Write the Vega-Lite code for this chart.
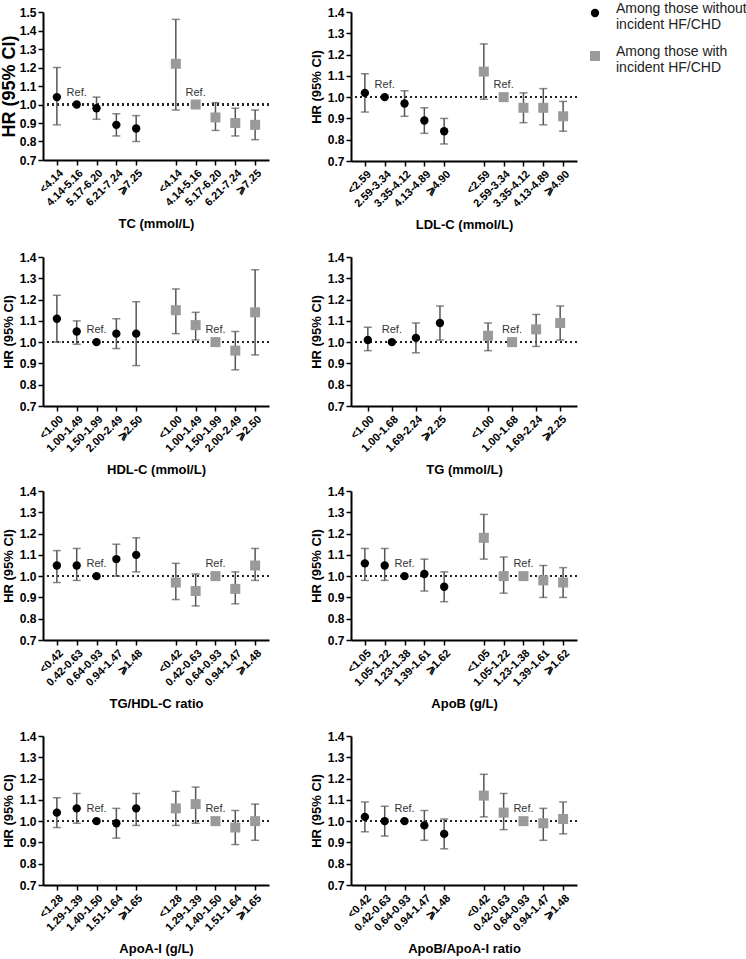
{
"$schema": "https://vega.github.io/schema/vega-lite/v6.json",
"padding": {"top": 6, "left": 0, "right": 5, "bottom": 0},
"background": "white",
"config": {
  "font": "Liberation Sans",
  "view": {"stroke": null},
  "axis": {"grid": false, "labelFont": "Liberation Sans", "labelFontWeight": "bold", "labelColor": "#000", "titleFont": "Liberation Sans", "titleFontWeight": "bold", "titleColor": "#000", "domainColor": "#000", "domainWidth": 2, "tickColor": "#000", "tickWidth": 1.5, "tickSize": 5, "labelOverlap": false},
  "axisX": {"labelAngle": -45, "labelFontSize": 11, "labelPadding": 2, "titleFontSize": 13, "titlePadding": 10},
  "axisY": {"labelFontSize": 12, "titleFontSize": 13, "titlePadding": 4, "format": ".1f", "tickCount": 8},
  "legend": {"padding": 0}
},
"datasets": {"d": [
{"p":"TC","g":"without","k":"1 <4.14","hr":1.04,"lo":0.89,"hi":1.20},
{"p":"TC","g":"without","k":"1 4.14-5.16","hr":1.0,"note":"Ref."},
{"p":"TC","g":"without","k":"1 5.17-6.20","hr":0.98,"lo":0.92,"hi":1.04},
{"p":"TC","g":"without","k":"1 6.21-7.24","hr":0.89,"lo":0.83,"hi":0.95},
{"p":"TC","g":"without","k":"1 ⩾7.25","hr":0.87,"lo":0.80,"hi":0.94},
{"p":"TC","g":"with","k":"2 <4.14","hr":1.22,"lo":0.97,"hi":1.46},
{"p":"TC","g":"with","k":"2 4.14-5.16","hr":1.0,"note":"Ref."},
{"p":"TC","g":"with","k":"2 5.17-6.20","hr":0.93,"lo":0.86,"hi":1.01},
{"p":"TC","g":"with","k":"2 6.21-7.24","hr":0.90,"lo":0.83,"hi":0.98},
{"p":"TC","g":"with","k":"2 ⩾7.25","hr":0.89,"lo":0.81,"hi":0.97},
{"p":"LDL","g":"without","k":"1 <2.59","hr":1.02,"lo":0.93,"hi":1.11},
{"p":"LDL","g":"without","k":"1 2.59-3.34","hr":1.0,"note":"Ref."},
{"p":"LDL","g":"without","k":"1 3.35-4.12","hr":0.97,"lo":0.91,"hi":1.03},
{"p":"LDL","g":"without","k":"1 4.13-4.89","hr":0.89,"lo":0.83,"hi":0.95},
{"p":"LDL","g":"without","k":"1 ⩾4.90","hr":0.84,"lo":0.78,"hi":0.90},
{"p":"LDL","g":"with","k":"2 <2.59","hr":1.12,"lo":0.99,"hi":1.25},
{"p":"LDL","g":"with","k":"2 2.59-3.34","hr":1.0,"note":"Ref."},
{"p":"LDL","g":"with","k":"2 3.35-4.12","hr":0.95,"lo":0.88,"hi":1.02},
{"p":"LDL","g":"with","k":"2 4.13-4.89","hr":0.95,"lo":0.87,"hi":1.04},
{"p":"LDL","g":"with","k":"2 ⩾4.90","hr":0.91,"lo":0.84,"hi":0.98},
{"p":"HDL","g":"without","k":"1 <1.00","hr":1.11,"lo":1.00,"hi":1.22},
{"p":"HDL","g":"without","k":"1 1.00-1.49","hr":1.05,"lo":0.99,"hi":1.10},
{"p":"HDL","g":"without","k":"1 1.50-1.99","hr":1.0,"note":"Ref."},
{"p":"HDL","g":"without","k":"1 2.00-2.49","hr":1.04,"lo":0.97,"hi":1.11},
{"p":"HDL","g":"without","k":"1 ⩾2.50","hr":1.04,"lo":0.89,"hi":1.19},
{"p":"HDL","g":"with","k":"2 <1.00","hr":1.15,"lo":1.04,"hi":1.25},
{"p":"HDL","g":"with","k":"2 1.00-1.49","hr":1.08,"lo":1.01,"hi":1.14},
{"p":"HDL","g":"with","k":"2 1.50-1.99","hr":1.0,"note":"Ref."},
{"p":"HDL","g":"with","k":"2 2.00-2.49","hr":0.96,"lo":0.87,"hi":1.05},
{"p":"HDL","g":"with","k":"2 ⩾2.50","hr":1.14,"lo":0.94,"hi":1.34},
{"p":"TG","g":"without","k":"1 <1.00","hr":1.01,"lo":0.96,"hi":1.07},
{"p":"TG","g":"without","k":"1 1.00-1.68","hr":1.0,"note":"Ref."},
{"p":"TG","g":"without","k":"1 1.69-2.24","hr":1.02,"lo":0.95,"hi":1.09},
{"p":"TG","g":"without","k":"1 ⩾2.25","hr":1.09,"lo":1.01,"hi":1.17},
{"p":"TG","g":"with","k":"2 <1.00","hr":1.03,"lo":0.96,"hi":1.09},
{"p":"TG","g":"with","k":"2 1.00-1.68","hr":1.0,"note":"Ref."},
{"p":"TG","g":"with","k":"2 1.69-2.24","hr":1.06,"lo":0.98,"hi":1.13},
{"p":"TG","g":"with","k":"2 ⩾2.25","hr":1.09,"lo":1.01,"hi":1.17},
{"p":"TGHDL","g":"without","k":"1 <0.42","hr":1.05,"lo":0.97,"hi":1.12},
{"p":"TGHDL","g":"without","k":"1 0.42-0.63","hr":1.05,"lo":0.98,"hi":1.13},
{"p":"TGHDL","g":"without","k":"1 0.64-0.93","hr":1.0,"note":"Ref."},
{"p":"TGHDL","g":"without","k":"1 0.94-1.47","hr":1.08,"lo":1.00,"hi":1.15},
{"p":"TGHDL","g":"without","k":"1 ⩾1.48","hr":1.10,"lo":1.02,"hi":1.18},
{"p":"TGHDL","g":"with","k":"2 <0.42","hr":0.97,"lo":0.89,"hi":1.06},
{"p":"TGHDL","g":"with","k":"2 0.42-0.63","hr":0.93,"lo":0.86,"hi":1.01},
{"p":"TGHDL","g":"with","k":"2 0.64-0.93","hr":1.0,"note":"Ref."},
{"p":"TGHDL","g":"with","k":"2 0.94-1.47","hr":0.94,"lo":0.87,"hi":1.02},
{"p":"TGHDL","g":"with","k":"2 ⩾1.48","hr":1.05,"lo":0.98,"hi":1.13},
{"p":"ApoB","g":"without","k":"1 <1.05","hr":1.06,"lo":0.98,"hi":1.13},
{"p":"ApoB","g":"without","k":"1 1.05-1.22","hr":1.05,"lo":0.98,"hi":1.13},
{"p":"ApoB","g":"without","k":"1 1.23-1.38","hr":1.0,"note":"Ref."},
{"p":"ApoB","g":"without","k":"1 1.39-1.61","hr":1.01,"lo":0.93,"hi":1.08},
{"p":"ApoB","g":"without","k":"1 ⩾1.62","hr":0.95,"lo":0.88,"hi":1.02},
{"p":"ApoB","g":"with","k":"2 <1.05","hr":1.18,"lo":1.08,"hi":1.29},
{"p":"ApoB","g":"with","k":"2 1.05-1.22","hr":1.00,"lo":0.92,"hi":1.09},
{"p":"ApoB","g":"with","k":"2 1.23-1.38","hr":1.0,"note":"Ref."},
{"p":"ApoB","g":"with","k":"2 1.39-1.61","hr":0.98,"lo":0.90,"hi":1.05},
{"p":"ApoB","g":"with","k":"2 ⩾1.62","hr":0.97,"lo":0.90,"hi":1.04},
{"p":"ApoAI","g":"without","k":"1 <1.28","hr":1.04,"lo":0.97,"hi":1.11},
{"p":"ApoAI","g":"without","k":"1 1.29-1.39","hr":1.06,"lo":0.99,"hi":1.13},
{"p":"ApoAI","g":"without","k":"1 1.40-1.50","hr":1.0,"note":"Ref."},
{"p":"ApoAI","g":"without","k":"1 1.51-1.64","hr":0.99,"lo":0.92,"hi":1.06},
{"p":"ApoAI","g":"without","k":"1 ⩾1.65","hr":1.06,"lo":0.98,"hi":1.13},
{"p":"ApoAI","g":"with","k":"2 <1.28","hr":1.06,"lo":0.98,"hi":1.14},
{"p":"ApoAI","g":"with","k":"2 1.29-1.39","hr":1.08,"lo":0.99,"hi":1.16},
{"p":"ApoAI","g":"with","k":"2 1.40-1.50","hr":1.0,"note":"Ref."},
{"p":"ApoAI","g":"with","k":"2 1.51-1.64","hr":0.97,"lo":0.89,"hi":1.05},
{"p":"ApoAI","g":"with","k":"2 ⩾1.65","hr":1.00,"lo":0.91,"hi":1.08},
{"p":"ApoBAI","g":"without","k":"1 <0.42","hr":1.02,"lo":0.95,"hi":1.09},
{"p":"ApoBAI","g":"without","k":"1 0.42-0.63","hr":1.00,"lo":0.93,"hi":1.07},
{"p":"ApoBAI","g":"without","k":"1 0.64-0.93","hr":1.0,"note":"Ref."},
{"p":"ApoBAI","g":"without","k":"1 0.94-1.47","hr":0.98,"lo":0.91,"hi":1.05},
{"p":"ApoBAI","g":"without","k":"1 ⩾1.48","hr":0.94,"lo":0.87,"hi":1.01},
{"p":"ApoBAI","g":"with","k":"2 <0.42","hr":1.12,"lo":1.02,"hi":1.22},
{"p":"ApoBAI","g":"with","k":"2 0.42-0.63","hr":1.04,"lo":0.96,"hi":1.13},
{"p":"ApoBAI","g":"with","k":"2 0.64-0.93","hr":1.0,"note":"Ref."},
{"p":"ApoBAI","g":"with","k":"2 0.94-1.47","hr":0.99,"lo":0.91,"hi":1.06},
{"p":"ApoBAI","g":"with","k":"2 ⩾1.48","hr":1.01,"lo":0.94,"hi":1.09}
]},
"data": {"name": "d"},
"spacing": 8,
"vconcat": [
{"spacing": 19, "vconcat": [
 {"spacing": 40, "hconcat": [
  {"width": 226, "height": 148, "transform": [{"filter": "datum.p === 'TC'"}],
   "layer": [
    {"mark": {"type": "rule", "strokeDash": [2, 3], "strokeWidth": 1.5, "color": "#222"},
     "encoding": {"y": {"datum": 1, "type": "quantitative", "scale": {"domain": [0.7, 1.5], "nice": false, "zero": false}, "axis": {"title": "HR (95% CI)", "titleFontSize": 18, "titlePadding": 1, "tickCount": 9, "labelOverlap": false, "values": [0.7,0.8,0.9,1.0,1.1,1.2,1.3,1.4,1.5]}}}},
    {"encoding": {"x": {"field": "k", "type": "nominal", "scale": {"type": "point", "padding": 0.7, "domain": ["1 <4.14","1 4.14-5.16","1 5.17-6.20","1 6.21-7.24","1 ⩾7.25","gap","2 <4.14","2 4.14-5.16","2 5.17-6.20","2 6.21-7.24","2 ⩾7.25"]}, "axis": {"title": "TC (mmol/L)", "labelExpr": "slice(datum.label, 2)", "values": ["1 <4.14","1 4.14-5.16","1 5.17-6.20","1 6.21-7.24","1 ⩾7.25","2 <4.14","2 4.14-5.16","2 5.17-6.20","2 6.21-7.24","2 ⩾7.25"]}}},
     "layer": [
      {"mark": {"type": "rule", "color": "#555", "strokeWidth": 1.5}, "encoding": {"y": {"field": "lo", "type": "quantitative"}, "y2": {"field": "hi"}}},
      {"mark": {"type": "tick", "color": "#555", "size": 8, "thickness": 1.5}, "encoding": {"y": {"field": "lo", "type": "quantitative"}}},
      {"mark": {"type": "tick", "color": "#555", "size": 8, "thickness": 1.5}, "encoding": {"y": {"field": "hi", "type": "quantitative"}}},
      {"mark": {"type": "point", "filled": true, "opacity": 1}, "encoding": {"y": {"field": "hr", "type": "quantitative"},
        "color": {"field": "g", "type": "nominal", "scale": {"domain": ["without", "with"], "range": ["#000000", "#9a9a9a"]}, "legend": {"orient": "none", "legendX": 545, "legendY": -6, "title": null, "labelExpr": "datum.label === 'without' ? ['Among those without', 'incident HF/CHD'] : ['Among those with', 'incident HF/CHD']", "labelFontSize": 14, "labelFont": "Liberation Sans", "labelColor": "#222", "labelBaseline": "alphabetic", "symbolSize": 90, "rowPadding": 13, "labelOffset": 14, "labelLimit": 0}},
        "shape": {"field": "g", "type": "nominal", "scale": {"domain": ["without", "with"], "range": ["circle", "square"]}},
        "size": {"field": "g", "type": "nominal", "scale": {"domain": ["without", "with"], "range": [70, 100]}, "legend": null}}},
      {"mark": {"type": "text", "dy": -12, "fontSize": 11, "color": "#333"}, "transform": [{"filter": "isValid(datum.note)"}], "encoding": {"y": {"field": "hr", "type": "quantitative"}, "text": {"field": "note"}}}
     ]}
   ]},
  {"width": 226, "height": 149, "transform": [{"filter": "datum.p === 'LDL'"}],
   "layer": [
    {"mark": {"type": "rule", "strokeDash": [2, 3], "strokeWidth": 1.5, "color": "#222"},
     "encoding": {"y": {"datum": 1, "type": "quantitative", "scale": {"domain": [0.7, 1.4], "nice": false, "zero": false}, "axis": {"title": "HR (95% CI)", "values": [0.7,0.8,0.9,1.0,1.1,1.2,1.3,1.4]}}}},
    {"encoding": {"x": {"field": "k", "type": "nominal", "scale": {"type": "point", "padding": 0.7, "domain": ["1 <2.59","1 2.59-3.34","1 3.35-4.12","1 4.13-4.89","1 ⩾4.90","gap","2 <2.59","2 2.59-3.34","2 3.35-4.12","2 4.13-4.89","2 ⩾4.90"]}, "axis": {"title": "LDL-C (mmol/L)", "labelExpr": "slice(datum.label, 2)", "values": ["1 <2.59","1 2.59-3.34","1 3.35-4.12","1 4.13-4.89","1 ⩾4.90","2 <2.59","2 2.59-3.34","2 3.35-4.12","2 4.13-4.89","2 ⩾4.90"]}}},
     "layer": [
      {"mark": {"type": "rule", "color": "#555", "strokeWidth": 1.5}, "encoding": {"y": {"field": "lo", "type": "quantitative"}, "y2": {"field": "hi"}}},
      {"mark": {"type": "tick", "color": "#555", "size": 8, "thickness": 1.5}, "encoding": {"y": {"field": "lo", "type": "quantitative"}}},
      {"mark": {"type": "tick", "color": "#555", "size": 8, "thickness": 1.5}, "encoding": {"y": {"field": "hi", "type": "quantitative"}}},
      {"mark": {"type": "point", "filled": true, "opacity": 1}, "encoding": {"y": {"field": "hr", "type": "quantitative"},
        "color": {"field": "g", "type": "nominal", "scale": {"domain": ["without", "with"], "range": ["#000000", "#9a9a9a"]}, "legend": null},
        "shape": {"field": "g", "type": "nominal", "scale": {"domain": ["without", "with"], "range": ["circle", "square"]}, "legend": null},
        "size": {"field": "g", "type": "nominal", "scale": {"domain": ["without", "with"], "range": [70, 100]}, "legend": null}}},
      {"mark": {"type": "text", "dy": -12, "fontSize": 11, "color": "#333"}, "transform": [{"filter": "isValid(datum.note)"}], "encoding": {"y": {"field": "hr", "type": "quantitative"}, "text": {"field": "note"}}}
     ]}
   ]}
 ]},
 {"spacing": 40, "hconcat": [
  {"width": 226, "height": 149, "transform": [{"filter": "datum.p === 'HDL'"}],
   "layer": [
    {"mark": {"type": "rule", "strokeDash": [2, 3], "strokeWidth": 1.5, "color": "#222"},
     "encoding": {"y": {"datum": 1, "type": "quantitative", "scale": {"domain": [0.7, 1.4], "nice": false, "zero": false}, "axis": {"title": "HR (95% CI)", "values": [0.7,0.8,0.9,1.0,1.1,1.2,1.3,1.4]}}}},
    {"encoding": {"x": {"field": "k", "type": "nominal", "scale": {"type": "point", "padding": 0.7, "domain": ["1 <1.00","1 1.00-1.49","1 1.50-1.99","1 2.00-2.49","1 ⩾2.50","gap","2 <1.00","2 1.00-1.49","2 1.50-1.99","2 2.00-2.49","2 ⩾2.50"]}, "axis": {"title": "HDL-C (mmol/L)", "labelExpr": "slice(datum.label, 2)", "values": ["1 <1.00","1 1.00-1.49","1 1.50-1.99","1 2.00-2.49","1 ⩾2.50","2 <1.00","2 1.00-1.49","2 1.50-1.99","2 2.00-2.49","2 ⩾2.50"]}}},
     "layer": [
      {"mark": {"type": "rule", "color": "#555", "strokeWidth": 1.5}, "encoding": {"y": {"field": "lo", "type": "quantitative"}, "y2": {"field": "hi"}}},
      {"mark": {"type": "tick", "color": "#555", "size": 8, "thickness": 1.5}, "encoding": {"y": {"field": "lo", "type": "quantitative"}}},
      {"mark": {"type": "tick", "color": "#555", "size": 8, "thickness": 1.5}, "encoding": {"y": {"field": "hi", "type": "quantitative"}}},
      {"mark": {"type": "point", "filled": true, "opacity": 1}, "encoding": {"y": {"field": "hr", "type": "quantitative"},
        "color": {"field": "g", "type": "nominal", "scale": {"domain": ["without", "with"], "range": ["#000000", "#9a9a9a"]}, "legend": null},
        "shape": {"field": "g", "type": "nominal", "scale": {"domain": ["without", "with"], "range": ["circle", "square"]}, "legend": null},
        "size": {"field": "g", "type": "nominal", "scale": {"domain": ["without", "with"], "range": [70, 100]}, "legend": null}}},
      {"mark": {"type": "text", "dy": -12, "fontSize": 11, "color": "#333"}, "transform": [{"filter": "isValid(datum.note)"}], "encoding": {"y": {"field": "hr", "type": "quantitative"}, "text": {"field": "note"}}}
     ]}
   ]},
  {"width": 226, "height": 149, "transform": [{"filter": "datum.p === 'TG'"}],
   "layer": [
    {"mark": {"type": "rule", "strokeDash": [2, 3], "strokeWidth": 1.5, "color": "#222"},
     "encoding": {"y": {"datum": 1, "type": "quantitative", "scale": {"domain": [0.7, 1.4], "nice": false, "zero": false}, "axis": {"title": "HR (95% CI)", "values": [0.7,0.8,0.9,1.0,1.1,1.2,1.3,1.4]}}}},
    {"encoding": {"x": {"field": "k", "type": "nominal", "scale": {"type": "point", "padding": 0.7, "domain": ["1 <1.00","1 1.00-1.68","1 1.69-2.24","1 ⩾2.25","gap","2 <1.00","2 1.00-1.68","2 1.69-2.24","2 ⩾2.25"]}, "axis": {"title": "TG (mmol/L)", "labelExpr": "slice(datum.label, 2)", "values": ["1 <1.00","1 1.00-1.68","1 1.69-2.24","1 ⩾2.25","2 <1.00","2 1.00-1.68","2 1.69-2.24","2 ⩾2.25"]}}},
     "layer": [
      {"mark": {"type": "rule", "color": "#555", "strokeWidth": 1.5}, "encoding": {"y": {"field": "lo", "type": "quantitative"}, "y2": {"field": "hi"}}},
      {"mark": {"type": "tick", "color": "#555", "size": 8, "thickness": 1.5}, "encoding": {"y": {"field": "lo", "type": "quantitative"}}},
      {"mark": {"type": "tick", "color": "#555", "size": 8, "thickness": 1.5}, "encoding": {"y": {"field": "hi", "type": "quantitative"}}},
      {"mark": {"type": "point", "filled": true, "opacity": 1}, "encoding": {"y": {"field": "hr", "type": "quantitative"},
        "color": {"field": "g", "type": "nominal", "scale": {"domain": ["without", "with"], "range": ["#000000", "#9a9a9a"]}, "legend": null},
        "shape": {"field": "g", "type": "nominal", "scale": {"domain": ["without", "with"], "range": ["circle", "square"]}, "legend": null},
        "size": {"field": "g", "type": "nominal", "scale": {"domain": ["without", "with"], "range": [70, 100]}, "legend": null}}},
      {"mark": {"type": "text", "dy": -12, "fontSize": 11, "color": "#333"}, "transform": [{"filter": "isValid(datum.note)"}], "encoding": {"y": {"field": "hr", "type": "quantitative"}, "text": {"field": "note"}}}
     ]}
   ]}
 ]}
]},
{"spacing": 19, "vconcat": [
 {"spacing": 40, "hconcat": [
  {"width": 226, "height": 149, "transform": [{"filter": "datum.p === 'TGHDL'"}],
   "layer": [
    {"mark": {"type": "rule", "strokeDash": [2, 3], "strokeWidth": 1.5, "color": "#222"},
     "encoding": {"y": {"datum": 1, "type": "quantitative", "scale": {"domain": [0.7, 1.4], "nice": false, "zero": false}, "axis": {"title": "HR (95% CI)", "values": [0.7,0.8,0.9,1.0,1.1,1.2,1.3,1.4]}}}},
    {"encoding": {"x": {"field": "k", "type": "nominal", "scale": {"type": "point", "padding": 0.7, "domain": ["1 <0.42","1 0.42-0.63","1 0.64-0.93","1 0.94-1.47","1 ⩾1.48","gap","2 <0.42","2 0.42-0.63","2 0.64-0.93","2 0.94-1.47","2 ⩾1.48"]}, "axis": {"title": "TG/HDL-C ratio", "labelExpr": "slice(datum.label, 2)", "values": ["1 <0.42","1 0.42-0.63","1 0.64-0.93","1 0.94-1.47","1 ⩾1.48","2 <0.42","2 0.42-0.63","2 0.64-0.93","2 0.94-1.47","2 ⩾1.48"]}}},
     "layer": [
      {"mark": {"type": "rule", "color": "#555", "strokeWidth": 1.5}, "encoding": {"y": {"field": "lo", "type": "quantitative"}, "y2": {"field": "hi"}}},
      {"mark": {"type": "tick", "color": "#555", "size": 8, "thickness": 1.5}, "encoding": {"y": {"field": "lo", "type": "quantitative"}}},
      {"mark": {"type": "tick", "color": "#555", "size": 8, "thickness": 1.5}, "encoding": {"y": {"field": "hi", "type": "quantitative"}}},
      {"mark": {"type": "point", "filled": true, "opacity": 1}, "encoding": {"y": {"field": "hr", "type": "quantitative"},
        "color": {"field": "g", "type": "nominal", "scale": {"domain": ["without", "with"], "range": ["#000000", "#9a9a9a"]}, "legend": null},
        "shape": {"field": "g", "type": "nominal", "scale": {"domain": ["without", "with"], "range": ["circle", "square"]}, "legend": null},
        "size": {"field": "g", "type": "nominal", "scale": {"domain": ["without", "with"], "range": [70, 100]}, "legend": null}}},
      {"mark": {"type": "text", "dy": -12, "fontSize": 11, "color": "#333"}, "transform": [{"filter": "isValid(datum.note)"}], "encoding": {"y": {"field": "hr", "type": "quantitative"}, "text": {"field": "note"}}}
     ]}
   ]},
  {"width": 226, "height": 149, "transform": [{"filter": "datum.p === 'ApoB'"}],
   "layer": [
    {"mark": {"type": "rule", "strokeDash": [2, 3], "strokeWidth": 1.5, "color": "#222"},
     "encoding": {"y": {"datum": 1, "type": "quantitative", "scale": {"domain": [0.7, 1.4], "nice": false, "zero": false}, "axis": {"title": "HR (95% CI)", "values": [0.7,0.8,0.9,1.0,1.1,1.2,1.3,1.4]}}}},
    {"encoding": {"x": {"field": "k", "type": "nominal", "scale": {"type": "point", "padding": 0.7, "domain": ["1 <1.05","1 1.05-1.22","1 1.23-1.38","1 1.39-1.61","1 ⩾1.62","gap","2 <1.05","2 1.05-1.22","2 1.23-1.38","2 1.39-1.61","2 ⩾1.62"]}, "axis": {"title": "ApoB (g/L)", "labelExpr": "slice(datum.label, 2)", "values": ["1 <1.05","1 1.05-1.22","1 1.23-1.38","1 1.39-1.61","1 ⩾1.62","2 <1.05","2 1.05-1.22","2 1.23-1.38","2 1.39-1.61","2 ⩾1.62"]}}},
     "layer": [
      {"mark": {"type": "rule", "color": "#555", "strokeWidth": 1.5}, "encoding": {"y": {"field": "lo", "type": "quantitative"}, "y2": {"field": "hi"}}},
      {"mark": {"type": "tick", "color": "#555", "size": 8, "thickness": 1.5}, "encoding": {"y": {"field": "lo", "type": "quantitative"}}},
      {"mark": {"type": "tick", "color": "#555", "size": 8, "thickness": 1.5}, "encoding": {"y": {"field": "hi", "type": "quantitative"}}},
      {"mark": {"type": "point", "filled": true, "opacity": 1}, "encoding": {"y": {"field": "hr", "type": "quantitative"},
        "color": {"field": "g", "type": "nominal", "scale": {"domain": ["without", "with"], "range": ["#000000", "#9a9a9a"]}, "legend": null},
        "shape": {"field": "g", "type": "nominal", "scale": {"domain": ["without", "with"], "range": ["circle", "square"]}, "legend": null},
        "size": {"field": "g", "type": "nominal", "scale": {"domain": ["without", "with"], "range": [70, 100]}, "legend": null}}},
      {"mark": {"type": "text", "dy": -12, "fontSize": 11, "color": "#333"}, "transform": [{"filter": "isValid(datum.note)"}], "encoding": {"y": {"field": "hr", "type": "quantitative"}, "text": {"field": "note"}}}
     ]}
   ]}
 ]},
 {"spacing": 40, "hconcat": [
  {"width": 226, "height": 149, "transform": [{"filter": "datum.p === 'ApoAI'"}],
   "layer": [
    {"mark": {"type": "rule", "strokeDash": [2, 3], "strokeWidth": 1.5, "color": "#222"},
     "encoding": {"y": {"datum": 1, "type": "quantitative", "scale": {"domain": [0.7, 1.4], "nice": false, "zero": false}, "axis": {"title": "HR (95% CI)", "values": [0.7,0.8,0.9,1.0,1.1,1.2,1.3,1.4]}}}},
    {"encoding": {"x": {"field": "k", "type": "nominal", "scale": {"type": "point", "padding": 0.7, "domain": ["1 <1.28","1 1.29-1.39","1 1.40-1.50","1 1.51-1.64","1 ⩾1.65","gap","2 <1.28","2 1.29-1.39","2 1.40-1.50","2 1.51-1.64","2 ⩾1.65"]}, "axis": {"title": "ApoA-I (g/L)", "labelExpr": "slice(datum.label, 2)", "values": ["1 <1.28","1 1.29-1.39","1 1.40-1.50","1 1.51-1.64","1 ⩾1.65","2 <1.28","2 1.29-1.39","2 1.40-1.50","2 1.51-1.64","2 ⩾1.65"]}}},
     "layer": [
      {"mark": {"type": "rule", "color": "#555", "strokeWidth": 1.5}, "encoding": {"y": {"field": "lo", "type": "quantitative"}, "y2": {"field": "hi"}}},
      {"mark": {"type": "tick", "color": "#555", "size": 8, "thickness": 1.5}, "encoding": {"y": {"field": "lo", "type": "quantitative"}}},
      {"mark": {"type": "tick", "color": "#555", "size": 8, "thickness": 1.5}, "encoding": {"y": {"field": "hi", "type": "quantitative"}}},
      {"mark": {"type": "point", "filled": true, "opacity": 1}, "encoding": {"y": {"field": "hr", "type": "quantitative"},
        "color": {"field": "g", "type": "nominal", "scale": {"domain": ["without", "with"], "range": ["#000000", "#9a9a9a"]}, "legend": null},
        "shape": {"field": "g", "type": "nominal", "scale": {"domain": ["without", "with"], "range": ["circle", "square"]}, "legend": null},
        "size": {"field": "g", "type": "nominal", "scale": {"domain": ["without", "with"], "range": [70, 100]}, "legend": null}}},
      {"mark": {"type": "text", "dy": -12, "fontSize": 11, "color": "#333"}, "transform": [{"filter": "isValid(datum.note)"}], "encoding": {"y": {"field": "hr", "type": "quantitative"}, "text": {"field": "note"}}}
     ]}
   ]},
  {"width": 226, "height": 149, "transform": [{"filter": "datum.p === 'ApoBAI'"}],
   "layer": [
    {"mark": {"type": "rule", "strokeDash": [2, 3], "strokeWidth": 1.5, "color": "#222"},
     "encoding": {"y": {"datum": 1, "type": "quantitative", "scale": {"domain": [0.7, 1.4], "nice": false, "zero": false}, "axis": {"title": "HR (95% CI)", "values": [0.7,0.8,0.9,1.0,1.1,1.2,1.3,1.4]}}}},
    {"encoding": {"x": {"field": "k", "type": "nominal", "scale": {"type": "point", "padding": 0.7, "domain": ["1 <0.42","1 0.42-0.63","1 0.64-0.93","1 0.94-1.47","1 ⩾1.48","gap","2 <0.42","2 0.42-0.63","2 0.64-0.93","2 0.94-1.47","2 ⩾1.48"]}, "axis": {"title": "ApoB/ApoA-I ratio", "labelExpr": "slice(datum.label, 2)", "values": ["1 <0.42","1 0.42-0.63","1 0.64-0.93","1 0.94-1.47","1 ⩾1.48","2 <0.42","2 0.42-0.63","2 0.64-0.93","2 0.94-1.47","2 ⩾1.48"]}}},
     "layer": [
      {"mark": {"type": "rule", "color": "#555", "strokeWidth": 1.5}, "encoding": {"y": {"field": "lo", "type": "quantitative"}, "y2": {"field": "hi"}}},
      {"mark": {"type": "tick", "color": "#555", "size": 8, "thickness": 1.5}, "encoding": {"y": {"field": "lo", "type": "quantitative"}}},
      {"mark": {"type": "tick", "color": "#555", "size": 8, "thickness": 1.5}, "encoding": {"y": {"field": "hi", "type": "quantitative"}}},
      {"mark": {"type": "point", "filled": true, "opacity": 1}, "encoding": {"y": {"field": "hr", "type": "quantitative"},
        "color": {"field": "g", "type": "nominal", "scale": {"domain": ["without", "with"], "range": ["#000000", "#9a9a9a"]}, "legend": null},
        "shape": {"field": "g", "type": "nominal", "scale": {"domain": ["without", "with"], "range": ["circle", "square"]}, "legend": null},
        "size": {"field": "g", "type": "nominal", "scale": {"domain": ["without", "with"], "range": [70, 100]}, "legend": null}}},
      {"mark": {"type": "text", "dy": -12, "fontSize": 11, "color": "#333"}, "transform": [{"filter": "isValid(datum.note)"}], "encoding": {"y": {"field": "hr", "type": "quantitative"}, "text": {"field": "note"}}}
     ]}
   ]}
 ]}
]}
]
}
